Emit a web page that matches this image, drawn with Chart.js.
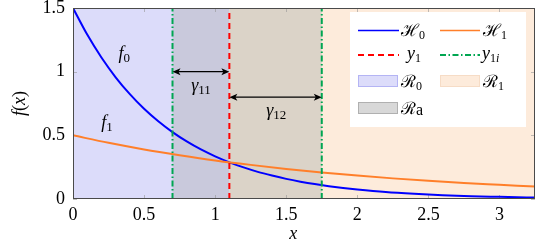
<!DOCTYPE html>
<html><head><meta charset="utf-8">
<script src="https://cdn.jsdelivr.net/npm/chart.js@4"></script>
<style>html,body{margin:0;padding:0;background:#fff}#wrap{width:536px;height:244px}</style>
</head><body><div id="wrap"><canvas id="c" width="536" height="244"></canvas></div>
<script>
// ---- data ----
const f0X = [0,0.1,0.2,0.3,0.4,0.5,0.6,0.7,0.8,0.9,1.0,1.1,1.2,1.3,1.4,1.5,1.6,1.7,1.8,1.9,2.0,2.2,2.4,2.6,2.8,3.0,3.25];
const f0Y = [1.5,1.291,1.111,0.956,0.823,0.708,0.610,0.525,0.452,0.389,0.335,0.288,0.248,0.213,0.184,0.158,0.136,0.117,0.101,0.087,0.075,0.055,0.041,0.030,0.022,0.017,0.011];
const f1X = [0,0.25,0.5,0.75,1.0,1.25,1.5,1.75,2.0,2.25,2.5,2.75,3.0,3.25];
const f1Y = [0.5,0.441,0.389,0.344,0.303,0.268,0.236,0.208,0.184,0.162,0.143,0.126,0.112,0.098];
const y1 = 1.1;            // threshold y1
const y1i = [0.7, 1.75];   // thresholds y1i
const regionR0 = [0, 1.1];
const regionR1 = [1.1, 3.25];
const regionRa = [0.7, 1.75];
const gamma11 = {from:0.7, to:1.1, level:1.0};
const gamma12 = {from:1.1, to:1.75, level:0.8};
const xTicks = [0,0.5,1,1.5,2,2.5,3];
const yTicks = [0,0.5,1,1.5];
const xTickLabels = ['0','0.5','1','1.5','2','2.5','3'];
const yTickLabels = ['0','0.5','1','1.5'];
const xRange = [0,3.25];
const yRange = [0,1.5];

const SERIF = "'Liberation Serif', 'DejaVu Serif', serif";
const C = {
  blue:'#0000ff', orange:'#ff7f2a', red:'#ff0000', green:'#00a651',
  r0:'rgb(220,220,250)', r1:'rgb(253,235,219)',
  ra0:'rgb(201,201,220)', ra1:'rgb(219,211,200)'
};

function mathText(ctx, parts, x, y, align){
  let w = 0;
  const f = p => p[1]+' '+p[2]+'px '+SERIF;
  parts.forEach(p=>{ ctx.font = f(p); w += ctx.measureText(p[0]).width; });
  let cx = align==='center' ? x - w/2 : x;
  ctx.textBaseline='alphabetic'; ctx.textAlign='left';
  parts.forEach(p=>{ ctx.font = f(p); ctx.fillText(p[0], cx, y+(p[3]||0)); cx += ctx.measureText(p[0]).width; });
}

function arrow(ctx, x1, x2, y){
  ctx.save(); ctx.strokeStyle='#000'; ctx.fillStyle='#000'; ctx.lineWidth=1.2;
  ctx.beginPath(); ctx.moveTo(x1+4,y); ctx.lineTo(x2-4,y); ctx.stroke();
  const h=8, hw=3.5;
  ctx.beginPath(); ctx.moveTo(x1,y); ctx.lineTo(x1+h,y-hw); ctx.lineTo(x1+h-2,y); ctx.lineTo(x1+h,y+hw); ctx.closePath(); ctx.fill();
  ctx.beginPath(); ctx.moveTo(x2,y); ctx.lineTo(x2-h,y-hw); ctx.lineTo(x2-h+2,y); ctx.lineTo(x2-h,y+hw); ctx.closePath(); ctx.fill();
  ctx.restore();
}

const bgPlugin = {
  id:'bg',
  beforeDatasetsDraw(chart){
    const {ctx, chartArea:a, scales:{x, y:ys}} = chart;
    const px = v => x.getPixelForValue(v);
    ctx.save();
    ctx.fillStyle=C.r0; ctx.fillRect(px(regionR0[0]), a.top, px(regionR0[1])-px(regionR0[0]), a.bottom-a.top);
    ctx.fillStyle=C.r1; ctx.fillRect(px(regionR1[0]), a.top, px(regionR1[1])-px(regionR1[0]), a.bottom-a.top);
    ctx.fillStyle=C.ra0; ctx.fillRect(px(regionRa[0]), a.top, px(y1)-px(regionRa[0]), a.bottom-a.top);
    ctx.fillStyle=C.ra1; ctx.fillRect(px(y1), a.top, px(regionRa[1])-px(y1), a.bottom-a.top);
    ctx.strokeStyle='rgba(150,150,150,0.6)'; ctx.lineWidth=1;
    xTicks.forEach(v=>{ const p=Math.round(px(v))+0.5; ctx.beginPath(); ctx.moveTo(p,a.bottom); ctx.lineTo(p,a.bottom-4); ctx.moveTo(p,a.top); ctx.lineTo(p,a.top+4); ctx.stroke(); });
    yTicks.forEach(v=>{ const p=Math.round(ys.getPixelForValue(v))+0.5; ctx.beginPath(); ctx.moveTo(a.left,p); ctx.lineTo(a.left+4,p); ctx.moveTo(a.right,p); ctx.lineTo(a.right-4,p); ctx.stroke(); });
    ctx.restore();
  },
  afterDatasetsDraw(chart){
    const {ctx, chartArea:a, scales:{x, y:ys}} = chart;
    const px = v => x.getPixelForValue(v), py = v => ys.getPixelForValue(v);
    ctx.save();
    ctx.fillStyle='#000';
    arrow(ctx, px(gamma11.from), px(gamma11.to), py(gamma11.level));
    arrow(ctx, px(gamma12.from), px(gamma12.to), py(gamma12.level));
    mathText(ctx, [['γ','italic',18],['11','',13,3]], px(0.9), py(0.85), 'center');
    mathText(ctx, [['γ','italic',18],['12','',13,3]], px(1.43), py(0.65), 'center');
    mathText(ctx, [['f','italic',18],['0','',13,3]], px(0.36), py(1.10), 'center');
    mathText(ctx, [['f','italic',18],['1','',13,3]], px(0.24), py(0.56), 'center');
    ctx.strokeStyle='#4a4a4a'; ctx.lineWidth=1;
    ctx.strokeRect(a.left+0.5, a.top+0.5, a.right-a.left-1, a.bottom-a.top-1);
    // legend
    ctx.fillStyle='#fff'; ctx.fillRect(350,12,176,115);
    const L=358, R=399, L2=440, R2=480;
    const line=(x1,x2,yy,col,dash)=>{ctx.save();ctx.strokeStyle=col;ctx.lineWidth=dash?2:1.3;ctx.setLineDash(dash||[]);ctx.beginPath();ctx.moveTo(x1,yy);ctx.lineTo(x2,yy);ctx.stroke();ctx.restore();};
    line(L,R,30.5,C.blue); line(L2,R2,30.5,C.orange);
    line(L,R,55,C.red,[6,4]); line(L2,R2,55,C.green,[6,2.5,1.5,2.5]);
    const box=(x1,yy,fill,stroke)=>{ctx.fillStyle=fill;ctx.fillRect(x1,yy-6,40,12);ctx.strokeStyle=stroke;ctx.lineWidth=1;ctx.strokeRect(x1+0.5,yy-5.5,39,11);};
    box(L,81,C.r0,'#b4b4f4'); box(L2,81,C.r1,'#f6dcc6'); box(L,108,'rgb(216,216,216)','#b0b0b0');
    ctx.fillStyle='#000';
    mathText(ctx, [['ℋ','',17],['0','',12,3]], 401, 36, 'left');
    mathText(ctx, [['ℋ','',17],['1','',12,3]], 483, 36, 'left');
    mathText(ctx, [['y','italic',18],['1','',12,3]], 407, 59, 'left');
    mathText(ctx, [['y','italic',18],['1','',12,3],['i','italic',12,3]], 482, 59, 'left');
    mathText(ctx, [['ℛ','',17],['0','',12,3]], 401, 87, 'left');
    mathText(ctx, [['ℛ','',17],['1','',12,3]], 483, 87, 'left');
    mathText(ctx, [['ℛ','',17],['a','',16,1]], 401, 114, 'left');
    mathText(ctx, [['x','italic',18]], px(1.55), 239, 'center');
    ctx.save(); ctx.translate(25, (a.top+a.bottom)/2); ctx.rotate(-Math.PI/2);
    mathText(ctx, [['f','italic',18],['(','',18],['x','italic',18],[')','',18]], 0, 0, 'center');
    ctx.restore();
    ctx.restore();
  }
};

const pts = (xs, ys) => xs.map((v,i)=>({x:v, y:ys[i]}));

new Chart(document.getElementById('c'), {
  type:'line',
  data:{ datasets:[
    {label:'y1', data:[{x:y1,y:yRange[0]},{x:y1,y:yRange[1]}], borderColor:C.red, borderWidth:2, borderDash:[6,4], pointRadius:0},
    {label:'y1i a', data:[{x:y1i[0],y:yRange[0]},{x:y1i[0],y:yRange[1]}], borderColor:C.green, borderWidth:2, borderDash:[6,2.5,1.5,2.5], pointRadius:0},
    {label:'y1i b', data:[{x:y1i[1],y:yRange[0]},{x:y1i[1],y:yRange[1]}], borderColor:C.green, borderWidth:2, borderDash:[6,2.5,1.5,2.5], pointRadius:0},
    {label:'H1', data:pts(f1X,f1Y), borderColor:C.orange, borderWidth:2, pointRadius:0, cubicInterpolationMode:'monotone'},
    {label:'H0', data:pts(f0X,f0Y), borderColor:C.blue, borderWidth:2, pointRadius:0, cubicInterpolationMode:'monotone'}
  ]},
  options:{
    responsive:false, animation:false, devicePixelRatio:1,
    layout:{padding:{top:8,right:1,left:0,bottom:0}},
    plugins:{legend:{display:false}, tooltip:{enabled:false}},
    scales:{
      x:{type:'linear', min:xRange[0], max:xRange[1],
         afterBuildTicks(s){ s.ticks = xTicks.map(v=>({value:v})); },
         afterFit(s){ s.height = 45; s.paddingLeft = 0; s.paddingRight = 0; },
         grid:{display:false, drawTicks:false}, border:{display:false},
         ticks:{color:'#000', padding:5, font:{family:SERIF, size:18}, maxRotation:0,
                callback:(v,i)=>xTickLabels[i]}},
      y:{type:'linear', min:yRange[0], max:yRange[1],
         afterBuildTicks(s){ s.ticks = yTicks.map(v=>({value:v})); },
         afterFit(s){ s.width = 73; s.paddingTop = 0; s.paddingBottom = 0; },
         grid:{display:false, drawTicks:false}, border:{display:false},
         ticks:{color:'#000', padding:8, font:{family:SERIF, size:18},
                callback:(v,i)=>yTickLabels[i]}}
    }
  },
  plugins:[bgPlugin]
});
</script></body></html>
